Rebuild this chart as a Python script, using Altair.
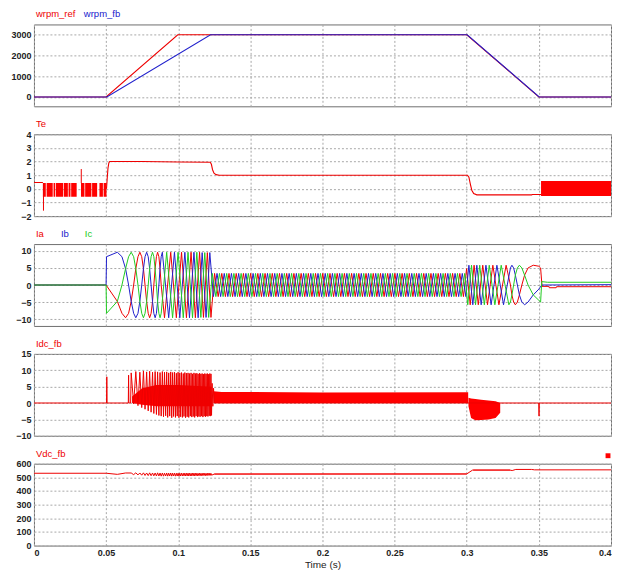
import altair as alt
import pandas as pd

W, H = 578, 82
FONT = "Liberation Sans, Arial, sans-serif"
RED, BLUE, GREEN = "#ee0000", "#2020cc", "#22cc22"

time_ticks = [0, 0.05, 0.1, 0.15, 0.2, 0.25, 0.3, 0.35, 0.4]

# ---------------- panel 1: speed ----------------
wrpm_ref_t = [0.0, 0.05, 0.0997, 0.30, 0.35, 0.40]
wrpm_ref_v = [0, 0, 3000, 3000, 0, 0]
wrpm_fb_t = [0.0, 0.0505, 0.1224, 0.3003, 0.3502, 0.40]
wrpm_fb_v = [0, 0, 3000, 3000, 0, 0]

# ---------------- panel 2: torque ----------------
te_pre_t = [0.0, 0.0062]
te_pre_v = [0.46, 0.46]
te_main_t = [0.0503, 0.0508, 0.0513, 0.0519, 0.0525, 0.0750, 0.1000, 0.1222, 0.1230, 0.1238,
             0.1248, 0.1262, 0.1285, 0.3005, 0.3015, 0.3025, 0.3035, 0.3048, 0.3070, 0.3450,
             0.3455, 0.3515]
te_main_v = [0.0, 0.8, 1.5, 1.9, 2.0, 2.0, 1.97, 1.95, 1.8, 1.4,
             1.15, 1.04, 1.0, 1.0, 0.85, 0.35, -0.1, -0.35, -0.44, -0.44,
             -0.42, -0.42]
te_block_t0 = [0.0062, 0.0088, 0.0136, 0.0152, 0.0208, 0.0240, 0.0258, 0.0326, 0.0355, 0.0403, 0.0454, 0.0483, 0.3515]
te_block_t1 = [0.0082, 0.0130, 0.0147, 0.0203, 0.0235, 0.0253, 0.0296, 0.0350, 0.0398, 0.0438, 0.0478, 0.0503, 0.4000]
te_block_lo = [-0.58, -0.58, -0.58, -0.58, -0.58, -0.58, -0.58, -0.58, -0.58, -0.58, -0.58, -0.58, -0.52]
te_block_hi = [0.42, 0.42, 0.42, 0.42, 0.42, 0.42, 0.42, 0.42, 0.42, 0.42, 0.42, 0.42, 0.58]
te_spike_t = [0.0066, 0.0328]
te_spike_lo = [-1.6, 0.42]
te_spike_hi = [0.42, 1.45]

# ---------------- panel 3: phase currents ----------------
ramp_grid_t = [0.0578, 0.0610, 0.0635, 0.0656, 0.0674, 0.0691, 0.0706, 0.0721, 0.0734, 0.0747,
               0.0759, 0.0770, 0.0781, 0.0792, 0.0802, 0.0812, 0.0822, 0.0831, 0.0840, 0.0849,
               0.0857, 0.0866, 0.0874, 0.0882]

ia_ramp_t = [0.0, 0.0500] + ramp_grid_t + [0.0905, 0.0948, 0.0987, 0.1023, 0.1057, 0.1089, 0.1119, 0.1148, 0.1175, 0.1202, 0.1227]
ia_ramp_v = [0, 0, -4.8, -8.3, -9.6, -8.3, -4.8, 0, 4.8, 8.3, 9.6, 8.3, 4.8, 0, -4.8, -8.3, -9.6, -8.3,
             -4.8, 0, 4.8, 8.3, 9.6, 8.3, 4.8, 0,
             -9.6, 9.6, -9.6, 9.6, -9.6, 9.6, -9.6, 9.6, -9.5, 9.5, -9.5]
ib_ramp_t = [0.0, 0.0500, 0.0503] + ramp_grid_t + [0.0890, 0.0934, 0.0974, 0.1011, 0.1046, 0.1078, 0.1109, 0.1138, 0.1166, 0.1193, 0.1219]
ib_ramp_v = [0, 0, 8.3, 9.6, 8.3, 4.8, 0, -4.8, -8.3, -9.6, -8.3, -4.8, 0, 4.8, 8.3, 9.6, 8.3, 4.8, 0,
             -4.8, -8.3, -9.6, -8.3, -4.8, 0, 4.8, 8.3,
             9.6, -9.6, 9.6, -9.6, 9.6, -9.6, 9.6, -9.6, 9.5, -9.5, 9.5]
ic_ramp_t = [0.0, 0.0500, 0.0503] + ramp_grid_t + [0.0920, 0.0961, 0.0999, 0.1035, 0.1068, 0.1099, 0.1129, 0.1157, 0.1184, 0.1211]
ic_ramp_v = [0, 0, -8.3, -4.8, 0, 4.8, 8.3, 9.6, 8.3, 4.8, 0, -4.8, -8.3, -9.6, -8.3, -4.8, 0, 4.8, 8.3,
             9.6, 8.3, 4.8, 0, -4.8, -8.3, -9.6, -8.3,
             9.6, -9.6, 9.6, -9.6, 9.6, -9.6, 9.6, -9.5, 9.5, -9.5]

ia_dense_t = [0.1252, 0.1277, 0.1302, 0.1327, 0.1352, 0.1377, 0.1402, 0.1427, 0.1452, 0.1477,
              0.1502, 0.1527, 0.1552, 0.1577, 0.1602, 0.1627, 0.1652, 0.1677, 0.1702, 0.1727,
              0.1752, 0.1777, 0.1802, 0.1827, 0.1852, 0.1877, 0.1902, 0.1927, 0.1952, 0.1977,
              0.2002, 0.2027, 0.2052, 0.2077, 0.2102, 0.2127, 0.2152, 0.2177, 0.2202, 0.2227,
              0.2252, 0.2277, 0.2302, 0.2327, 0.2352, 0.2377, 0.2402, 0.2427, 0.2452, 0.2477,
              0.2502, 0.2527, 0.2552, 0.2577, 0.2602, 0.2627, 0.2652, 0.2677, 0.2702, 0.2727,
              0.2752, 0.2777, 0.2802, 0.2827, 0.2852, 0.2877, 0.2902, 0.2927, 0.2952, 0.2977]
ia_dense_v = [3.4, -3.4, 3.4, -3.4, 3.4, -3.4, 3.4, -3.4, 3.4, -3.4,
              3.4, -3.4, 3.4, -3.4, 3.4, -3.4, 3.4, -3.4, 3.4, -3.4,
              3.4, -3.4, 3.4, -3.4, 3.4, -3.4, 3.4, -3.4, 3.4, -3.4,
              3.4, -3.4, 3.4, -3.4, 3.4, -3.4, 3.4, -3.4, 3.4, -3.4,
              3.4, -3.4, 3.4, -3.4, 3.4, -3.4, 3.4, -3.4, 3.4, -3.4,
              3.4, -3.4, 3.4, -3.4, 3.4, -3.4, 3.4, -3.4, 3.4, -3.4,
              3.4, -3.4, 3.4, -3.4, 3.4, -3.4, 3.4, -3.4, 3.4, -3.4]
ib_dense_t = [0.1244, 0.1269, 0.1294, 0.1319, 0.1344, 0.1369, 0.1394, 0.1419, 0.1444, 0.1469,
              0.1494, 0.1519, 0.1544, 0.1569, 0.1594, 0.1619, 0.1644, 0.1669, 0.1694, 0.1719,
              0.1744, 0.1769, 0.1794, 0.1819, 0.1844, 0.1869, 0.1894, 0.1919, 0.1944, 0.1969,
              0.1994, 0.2019, 0.2044, 0.2069, 0.2094, 0.2119, 0.2144, 0.2169, 0.2194, 0.2219,
              0.2244, 0.2269, 0.2294, 0.2319, 0.2344, 0.2369, 0.2394, 0.2419, 0.2444, 0.2469,
              0.2494, 0.2519, 0.2544, 0.2569, 0.2594, 0.2619, 0.2644, 0.2669, 0.2694, 0.2719,
              0.2744, 0.2769, 0.2794, 0.2819, 0.2844, 0.2869, 0.2894, 0.2919, 0.2944, 0.2969,
              0.2994]
ib_dense_v = [-3.4, 3.4, -3.4, 3.4, -3.4, 3.4, -3.4, 3.4, -3.4, 3.4,
              -3.4, 3.4, -3.4, 3.4, -3.4, 3.4, -3.4, 3.4, -3.4, 3.4,
              -3.4, 3.4, -3.4, 3.4, -3.4, 3.4, -3.4, 3.4, -3.4, 3.4,
              -3.4, 3.4, -3.4, 3.4, -3.4, 3.4, -3.4, 3.4, -3.4, 3.4,
              -3.4, 3.4, -3.4, 3.4, -3.4, 3.4, -3.4, 3.4, -3.4, 3.4,
              -3.4, 3.4, -3.4, 3.4, -3.4, 3.4, -3.4, 3.4, -3.4, 3.4,
              -3.4, 3.4, -3.4, 3.4, -3.4, 3.4, -3.4, 3.4, -3.4, 3.4,
              -3.4]
ic_dense_t = [0.1236, 0.1261, 0.1286, 0.1311, 0.1336, 0.1361, 0.1386, 0.1411, 0.1436, 0.1461,
              0.1486, 0.1511, 0.1536, 0.1561, 0.1586, 0.1611, 0.1636, 0.1661, 0.1686, 0.1711,
              0.1736, 0.1761, 0.1786, 0.1811, 0.1836, 0.1861, 0.1886, 0.1911, 0.1936, 0.1961,
              0.1986, 0.2011, 0.2036, 0.2061, 0.2086, 0.2111, 0.2136, 0.2161, 0.2186, 0.2211,
              0.2236, 0.2261, 0.2286, 0.2311, 0.2336, 0.2361, 0.2386, 0.2411, 0.2436, 0.2461,
              0.2486, 0.2511, 0.2536, 0.2561, 0.2586, 0.2611, 0.2636, 0.2661, 0.2686, 0.2711,
              0.2736, 0.2761, 0.2786, 0.2811, 0.2836, 0.2861, 0.2886, 0.2911, 0.2936, 0.2961,
              0.2986]
ic_dense_v = [3.4, -3.4, 3.4, -3.4, 3.4, -3.4, 3.4, -3.4, 3.4, -3.4,
              3.4, -3.4, 3.4, -3.4, 3.4, -3.4, 3.4, -3.4, 3.4, -3.4,
              3.4, -3.4, 3.4, -3.4, 3.4, -3.4, 3.4, -3.4, 3.4, -3.4,
              3.4, -3.4, 3.4, -3.4, 3.4, -3.4, 3.4, -3.4, 3.4, -3.4,
              3.4, -3.4, 3.4, -3.4, 3.4, -3.4, 3.4, -3.4, 3.4, -3.4,
              3.4, -3.4, 3.4, -3.4, 3.4, -3.4, 3.4, -3.4, 3.4, -3.4,
              3.4, -3.4, 3.4, -3.4, 3.4, -3.4, 3.4, -3.4, 3.4, -3.4,
              3.4]

ia_down_t = [0.2999, 0.3024, 0.3051, 0.3080, 0.3111, 0.3144, 0.3181, 0.3223, 0.3273, 0.3303,
             0.3313, 0.3325, 0.3337, 0.3351, 0.3365, 0.3382, 0.3401, 0.3425, 0.3461, 0.3500,
             0.3512, 0.3522, 0.3570, 0.3572, 0.3620, 0.3622, 0.4000]
ia_down_v = [4.8, -5.8, 5.8, -5.8, 5.8, -5.8, 5.8, -5.8, 5.8, 0,
             -2.9, -5.0, -5.8, -5.0, -2.9, 0, 2.9, 5.0, 5.8, 5.5,
             5.0, -0.4, -0.4, -0.8, -0.8, -0.5, -0.5]
ib_down_t = [0.3015, 0.3042, 0.3070, 0.3100, 0.3133, 0.3169, 0.3209, 0.3255, 0.3303, 0.3313,
             0.3325, 0.3337, 0.3351, 0.3365, 0.3382, 0.3401, 0.3425, 0.3461, 0.3500, 0.3520, 0.4000]
ib_down_v = [5.8, -5.8, 5.8, -5.8, 5.8, -5.8, 5.8, -5.8, 5.0, 5.8,
             5.0, 2.9, 0, -2.9, -5.0, -5.8, -5.0, -2.9, -1.2, 0.0, 0.1]
ic_down_t = [0.3007, 0.3033, 0.3061, 0.3090, 0.3122, 0.3156, 0.3195, 0.3239, 0.3292, 0.3303,
             0.3313, 0.3325, 0.3337, 0.3351, 0.3365, 0.3382, 0.3401, 0.3425, 0.3461, 0.3500,
             0.3512, 0.3520, 0.3560, 0.4000]
ic_down_v = [-5.8, 5.8, -5.8, 5.8, -5.8, 5.8, -5.8, 5.8, -5.8, -5.0,
             -2.9, 0, 2.9, 5.0, 5.8, 5.0, 2.9, 0, -2.9, -4.5,
             -5.0, 1.0, 0.8, 0.8]

# ---------------- panel 4: DC current ----------------
idc_pre_t = [0.0, 0.0503, 0.0505, 0.0507, 0.0654, 0.0656, 0.0658, 0.0670]
idc_pre_v = [0, 0, 8.0, 0, 0, 8.5, 0, 0]
idc_spike_t = [0.0674, 0.0706, 0.0734, 0.0759, 0.0781, 0.0802, 0.0822, 0.0840, 0.0857, 0.0874,
               0.0890, 0.0905, 0.0920, 0.0934, 0.0948, 0.0961, 0.0974, 0.0987, 0.0999, 0.1011,
               0.1023, 0.1035, 0.1046, 0.1057, 0.1068, 0.1078, 0.1089, 0.1099, 0.1109, 0.1119,
               0.1129, 0.1138, 0.1148, 0.1157, 0.1166, 0.1175, 0.1184, 0.1193, 0.1202, 0.1211,
               0.1219, 0.1227]
idc_spike_v = [9.2, 9.6, 9.4, 9.8, 9.5, 9.7, 9.4, 9.6, 9.5, 9.3,
               9.6, 9.4, 9.5, 9.2, 9.5, 9.3, 9.4, 9.1, 9.4, 9.2,
               9.3, 9.0, 9.3, 9.1, 9.2, 9.0, 9.2, 8.9, 9.2, 9.0,
               9.1, 8.9, 9.1, 8.9, 9.0, 8.8, 9.0, 8.9, 9.0, 8.8,
               9.0, 8.9]
idc_trough_t = [0.0691, 0.0721, 0.0747, 0.0770, 0.0792, 0.0812, 0.0831, 0.0849, 0.0866, 0.0882,
                0.0898, 0.0913, 0.0927, 0.0941, 0.0955, 0.0968, 0.0981, 0.0993, 0.1005, 0.1017,
                0.1029, 0.1040, 0.1051, 0.1062, 0.1073, 0.1084, 0.1094, 0.1104, 0.1114, 0.1124,
                0.1134, 0.1143, 0.1152, 0.1162, 0.1171, 0.1180, 0.1189, 0.1198, 0.1206, 0.1215,
                0.1223, 0.1231]
idc_trough_v = [-0.3, -0.8, -1.4, -1.9, -2.4, -2.8, -3.2, -3.5, -3.8, -4.0,
                -4.2, -3.9, -4.4, -4.0, -4.5, -4.1, -4.4, -4.0, -4.5, -4.2,
                -4.4, -4.1, -4.5, -4.2, -4.4, -4.0, -4.3, -4.1, -4.4, -4.0,
                -4.3, -4.1, -4.2, -4.0, -4.3, -4.0, -4.2, -4.0, -4.1, -3.9,
                -4.0, -3.8]
idc_post_t = [0.1235, 0.1240, 0.1245, 0.1250, 0.3499, 0.3501, 0.3503, 0.4000]
idc_post_v = [6.0, -1.0, 4.5, 0.0, 0.0, -4.0, 0.0, 0.0]
idc_band_seg = [1, 1, 1, 1, 1, 2, 2, 2, 2, 2, 3, 3, 3, 3, 3, 3, 3]
idc_band_t = [0.0680, 0.0750, 0.0850, 0.1000, 0.1232,
              0.1245, 0.1300, 0.2000, 0.3000, 0.3010,
              0.3012, 0.3030, 0.3060, 0.3100, 0.3150, 0.3200, 0.3232]
idc_band_lo = [0.0, -0.5, -1.0, -1.0, -1.0,
               0.0, 0.0, 0.0, 0.0, 0.0,
               -1.0, -4.6, -5.3, -5.2, -5.0, -4.6, -3.0]
idc_band_hi = [2.0, 4.5, 5.5, 5.5, 5.0,
               3.6, 3.4, 3.2, 3.3, 3.3,
               1.6, 1.4, 1.2, 1.0, 0.8, 0.5, 0.0]

# ---------------- panel 5: DC voltage ----------------
vdc_pre_t = [0.0, 0.0502, 0.0578, 0.0635]
vdc_pre_v = [530, 530, 522, 532]
vdc_peak_t = idc_spike_t
vdc_peak_v = [532, 533, 532, 533, 532, 533, 532, 532, 533, 532,
              532, 531, 532, 531, 532, 531, 531, 530, 531, 530,
              531, 530, 531, 530, 531, 530, 530, 530, 531, 530,
              530, 529, 530, 529, 530, 529, 530, 529, 530, 529,
              530, 529]
vdc_dip_t = idc_trough_t
vdc_dip_v = [520, 518, 516, 514, 513, 512, 511, 510, 510, 509,
             509, 510, 509, 510, 509, 510, 509, 510, 509, 510,
             510, 511, 510, 511, 510, 511, 511, 512, 511, 512,
             512, 513, 512, 513, 513, 514, 513, 514, 514, 515,
             515, 516]
vdc_post_t = [0.1250, 0.3000, 0.3040, 0.3300, 0.3315, 0.3340, 0.3450, 0.3470, 0.4000]
vdc_post_v = [524, 525, 553, 553, 550, 558, 558, 555, 555]
vdc_band_seg = [2, 2, 3, 3]
vdc_band_t = [0.1250, 0.3000, 0.3045, 0.3300]
vdc_band_lo = [519, 520, 548, 548]
vdc_band_hi = [530, 531, 559, 559]


def frame(**cols):
    n = min(len(v) for v in cols.values())
    d = {k: list(v)[:n] for k, v in cols.items()}
    d["i"] = list(range(n))
    return pd.DataFrame(d)


def zigzag(at, av, bt, bv):
    zt, zv = [], []
    for a, b, c, d in zip(at, av, bt, bv):
        zt += [a, c]
        zv += [b, d]
    return zt, zv


def xe(field, last=False):
    if last:
        ax = alt.Axis(values=time_ticks, format="~g", labels=True, labelFlush=True, title="Time (s)")
    else:
        ax = alt.Axis(values=time_ticks, labels=False, title=None)
    return alt.X(f"{field}:Q", scale=alt.Scale(domain=[0, 0.4], nice=False, zero=False), axis=ax)


def ye(field, dom, ticks):
    return alt.Y(f"{field}:Q", scale=alt.Scale(domain=dom, nice=False, zero=False),
                 axis=alt.Axis(values=ticks, format="d", title=None))


def line(df, color, dom, ticks, last=False, width=1.1):
    return alt.Chart(df).mark_line(color=color, strokeWidth=width, clip=True).encode(
        x=xe("t", last), y=ye("v", dom, ticks), order="i:Q")


def label(text, dx, color):
    return alt.Chart(pd.DataFrame({"s": [text]})).mark_text(
        align="left", baseline="middle", font=FONT, fontSize=9.5, color=color
    ).encode(x=alt.value(dx), y=alt.value(-10), text="s:N")


# panel 1
d1, t1 = [-450, 3500], [0, 1000, 2000, 3000]
p1 = alt.layer(
    line(frame(t=wrpm_ref_t, v=wrpm_ref_v), RED, d1, t1),
    line(frame(t=wrpm_fb_t, v=wrpm_fb_v), BLUE, d1, t1),
    label("wrpm_ref", 2, RED), label("wrpm_fb", 50, BLUE),
).properties(width=W, height=H)

# panel 2
d2, t2 = [-2, 4], [-2, -1, 0, 1, 2, 3, 4]
te_df = pd.concat([frame(t=te_pre_t, v=te_pre_v).assign(seg=0),
                   frame(t=te_main_t, v=te_main_v).assign(seg=1)], ignore_index=True)
te_df["i"] = range(len(te_df))
te_blocks = frame(t0=te_block_t0, t1=te_block_t1, lo=te_block_lo, hi=te_block_hi)
te_spikes = frame(t=te_spike_t, lo=te_spike_lo, hi=te_spike_hi)
p2 = alt.layer(
    alt.Chart(te_blocks).mark_rect(color="#ff0000", clip=True).encode(
        x=xe("t0"), x2="t1:Q", y=ye("lo", d2, t2), y2="hi:Q"),
    alt.Chart(te_spikes).mark_rule(color=RED, strokeWidth=1, clip=True).encode(
        x=xe("t"), y=ye("lo", d2, t2), y2="hi:Q"),
    alt.Chart(te_df).mark_line(color=RED, strokeWidth=1.1, clip=True).encode(
        x=xe("t"), y=ye("v", d2, t2), order="i:Q", detail="seg:N"),
    label("Te", 2, RED),
).properties(width=W, height=H)

# panel 3
d3, t3 = [-12, 12], [-10, -5, 0, 5, 10]
ia = frame(t=ia_ramp_t + ia_dense_t + ia_down_t, v=ia_ramp_v + ia_dense_v + ia_down_v)
ib = frame(t=ib_ramp_t + ib_dense_t + ib_down_t, v=ib_ramp_v + ib_dense_v + ib_down_v)
ic = frame(t=ic_ramp_t + ic_dense_t + ic_down_t, v=ic_ramp_v + ic_dense_v + ic_down_v)
p3 = alt.layer(
    line(ia, RED, d3, t3, width=1.0),
    line(ib, BLUE, d3, t3, width=1.0),
    line(ic, GREEN, d3, t3, width=1.0),
    label("Ia", 2, RED), label("Ib", 27, BLUE), label("Ic", 51, GREEN),
).properties(width=W, height=H)

# panel 4
d4, t4 = [-10, 15], [-10, -5, 0, 5, 10, 15]
zt, zv = zigzag(idc_spike_t, idc_spike_v, idc_trough_t, idc_trough_v)
idc = frame(t=idc_pre_t + zt + idc_post_t, v=idc_pre_v + zv + idc_post_v)
idc_band = frame(seg=idc_band_seg, t=idc_band_t, lo=idc_band_lo, hi=idc_band_hi)
p4 = alt.layer(
    alt.Chart(idc_band).mark_area(color="#ff0000", clip=True).encode(
        x=xe("t"), y=ye("lo", d4, t4), y2="hi:Q", detail="seg:N"),
    line(idc, RED, d4, t4, width=1.0),
    label("Idc_fb", 2, RED),
).properties(width=W, height=H)

# panel 5
d5, t5 = [0, 600], [0, 100, 200, 300, 400, 500, 600]
vt, vv = zigzag(vdc_peak_t, vdc_peak_v, vdc_dip_t, vdc_dip_v)
vdc = frame(t=vdc_pre_t + vt + vdc_post_t, v=vdc_pre_v + vv + vdc_post_v)
vdc_band = frame(seg=vdc_band_seg, t=vdc_band_t, lo=vdc_band_lo, hi=vdc_band_hi)
marker = alt.Chart(pd.DataFrame({"s": [1]})).mark_square(color="#ff0000", size=24, opacity=1).encode(
    x=alt.value(W - 3), y=alt.value(-8))
p5 = alt.layer(
    alt.Chart(vdc_band).mark_area(color="#ff3030", opacity=0.7, clip=True).encode(
        x=xe("t", True), y=ye("lo", d5, t5), y2="hi:Q", detail="seg:N"),
    line(vdc, RED, d5, t5, last=True, width=1.0),
    label("Vdc_fb", 2, RED),
    marker,
).properties(width=W, height=H)

chart = alt.vconcat(p1, p2, p3, p4, p5, spacing=28, bounds="flush").properties(
    padding={"left": 2, "top": 0, "right": 0, "bottom": 0}
).configure_axis(
    grid=True, gridColor="#a8a8a8", gridDash=[2, 2], gridWidth=1,
    domain=False, ticks=False,
    labelFont=FONT, labelFontSize=9, labelFontWeight="bold", labelColor="#222222",
    titleFont=FONT, titleFontSize=10, titleFontWeight="normal",
    titleColor="#222222",
).configure_axisX(labelPadding=3, titlePadding=2).configure_axisY(labelPadding=3).configure_view(
    stroke="#6e6e6e", strokeWidth=1)

chart.save("out.html", embed_options={"renderer": "svg", "actions": False})
